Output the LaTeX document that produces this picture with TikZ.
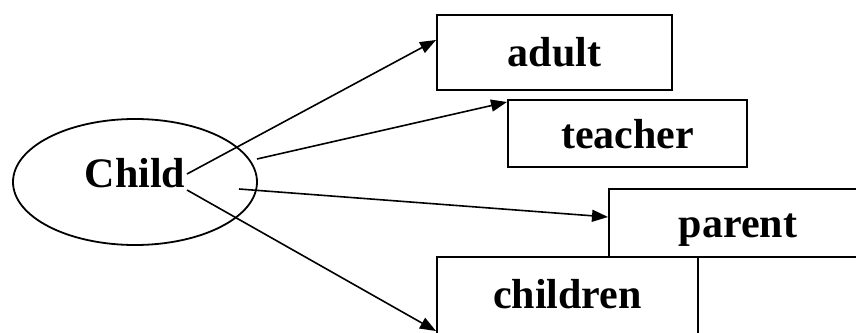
\documentclass[tikz,border=0pt]{standalone}
\usepackage{fontspec}
\setmainfont{Liberation Serif}
\usetikzlibrary{arrows.meta,shapes.geometric}
\tikzset{
  lbl/.style={font=\fontsize{42}{50}\selectfont\bfseries, inner sep=0pt},
  box/.style={lbl, draw, line width=2pt, rectangle},
  conn/.style={line width=1.6pt, -{Triangle[length=16pt,width=12pt]}},
}
\begin{document}
\begin{tikzpicture}[x=1pt,y=1pt]
\useasboundingbox (0,0) rectangle (856,332);
\fill[white] (0,0) rectangle (856,332);
\clip (0,0) rectangle (856,332);
\node[lbl, draw, line width=1.8pt, ellipse, minimum width=244pt, minimum height=126pt,
      text height=31pt, text depth=19pt] (child) at (135,150) {Child};
\node[box, minimum width=235pt, minimum height=75pt, text height=31pt, text depth=2pt] (adult) at (554.5,279.5) {adult};
\node[box, minimum width=239pt, minimum height=67pt, text height=31pt, text depth=-6pt] (teacher) at (627.5,198.5) {teacher};
\node[box, minimum width=258pt, minimum height=68pt, text height=31pt, text depth=1pt] (parent) at (738,109) {parent};
\node[box, minimum width=261pt, minimum height=115pt, text height=31pt, text depth=44pt] (children) at (567.5,17.5) {children};
\coordinate (s1) at (187,158);
\coordinate (s2) at (257,173);
\coordinate (s3) at (239,143);
\coordinate (s4) at (187,142);
\draw[conn] (s1) -- ([yshift=12.5pt]adult.west);
\draw[conn] (s2) -- ([yshift=-3pt]teacher.north west);
\draw[conn] (s3) -- ([yshift=6pt]parent.west);
\draw[conn] (s4) -- ([yshift=-16.5pt]children.west);
\end{tikzpicture}
\end{document}
